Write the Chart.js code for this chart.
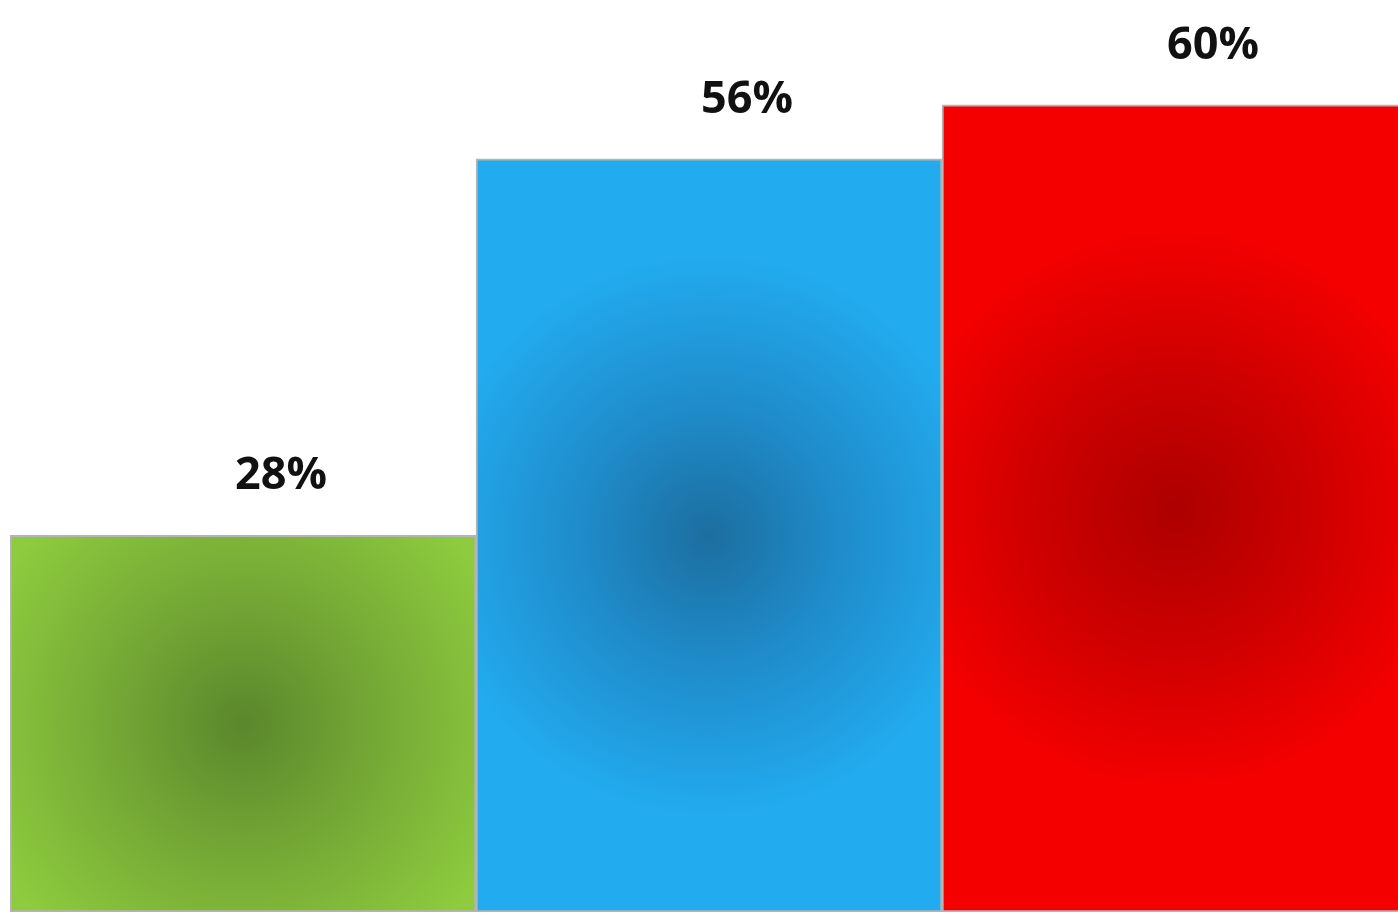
<!DOCTYPE html>
<html>
<head>
<meta charset="utf-8">
<script src="https://cdn.jsdelivr.net/npm/chart.js@4.4.0/dist/chart.umd.min.js"></script>
<style>
  html, body { margin: 0; padding: 0; background: #fff; overflow: hidden; }
  #wrap { position: relative; width: 1408px; height: 913px; }
</style>
</head>
<body>
<div id="wrap"><canvas id="grafico"></canvas></div>
<script>
// Dados do gráfico
var categorias = ["A", "B", "C"];
var valores = [28, 56, 60];
var rotulos = ["28%", "56%", "60%"];

// Cores: centro (escuro), meio e borda (claro) de cada barra
var corCentro = ["#5a872c", "#1c6e9f", "#ad0000"];
var corMeio = ["#74a835", "#1f8ccb", "#cc0000"];
var corBorda = ["#8ecb3e", "#22abef", "#f40000"];

// Gradiente radial centrado em cada barra
function gradienteBarra(context) {
  var chart = context.chart;
  var i = context.dataIndex;
  if (!chart.chartArea || i === undefined) {
    return corBorda[i || 0];
  }
  var x = chart.scales.x.getPixelForValue(i);
  var yTopo = chart.scales.y.getPixelForValue(valores[i]);
  var yBase = chart.scales.y.getPixelForValue(0);
  var cy = (yTopo + yBase) / 2;
  var g = chart.ctx.createRadialGradient(x, cy, 0, x, cy, 330);
  g.addColorStop(0, corCentro[i]);
  g.addColorStop(0.4, corMeio[i]);
  g.addColorStop(0.85, corBorda[i]);
  g.addColorStop(1, corBorda[i]);
  return g;
}

// Plugin para escrever os percentuais acima das barras
var rotulosPlugin = {
  id: "rotulos",
  afterDatasetsDraw: function (chart) {
    var ctx = chart.ctx;
    var meta = chart.getDatasetMeta(0);
    ctx.save();
    ctx.font = "bold 45px 'Open Sans', sans-serif";
    ctx.fillStyle = "#111";
    ctx.textAlign = "center";
    ctx.textBaseline = "alphabetic";
    meta.data.forEach(function (bar, i) {
      ctx.fillText(rotulos[i], bar.x + 38, bar.y - 46);
    });
    ctx.restore();
  },
};

var ctx = document.getElementById("grafico").getContext("2d");
var grafico = new Chart(ctx, {
  type: "bar",
  data: {
    labels: categorias,
    datasets: [
      {
        data: valores,
        backgroundColor: gradienteBarra,
        borderColor: "#b4b4b4",
        borderWidth: 2,
        borderSkipped: false,
        barPercentage: 1,
        categoryPercentage: 1,
      },
    ],
  },
  options: {
    responsive: true,
    maintainAspectRatio: false,
    animation: false,
    layout: { padding: { left: 10, right: 0, top: 0, bottom: 1 } },
    plugins: {
      legend: { display: false },
      tooltip: { enabled: false },
    },
    scales: {
      x: { display: false },
      y: { display: false, min: 0, max: 67.8 },
    },
  },
  plugins: [rotulosPlugin],
});
</script>
</body>
</html>
